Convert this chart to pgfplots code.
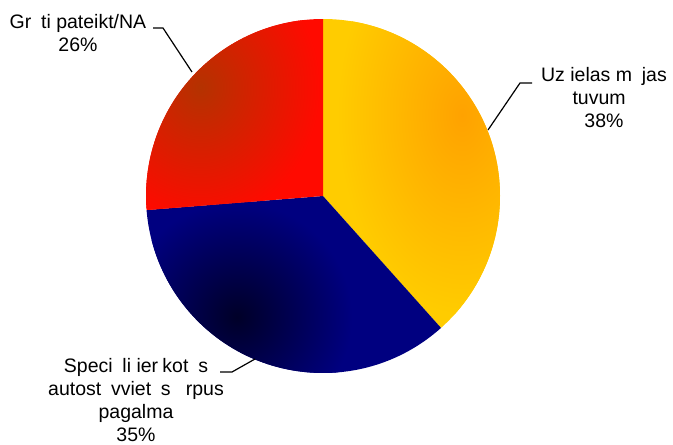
\documentclass[border=0pt]{standalone}
\usepackage{pgfplots}
\pgfplotsset{compat=1.18}
\usepackage{fontspec}
\setmainfont{Liberation Sans}
\definecolor{pyel}{RGB}{255,204,0}
\definecolor{pora}{RGB}{255,162,0}
\definecolor{pred}{RGB}{255,10,0}
\definecolor{pdred}{RGB}{180,50,0}
\definecolor{pnavy}{RGB}{0,0,128}
\definecolor{pdnavy}{RGB}{0,0,40}
\newcommand\g{\kern0.5em}
\newcommand\gi{\kern0.22em}
\begin{document}
\begin{tikzpicture}
% values (per cent)
\def\vA{38}% Uz ielas majas tuvuma
\def\vB{35}% Speciali ierikotas ...
\def\vC{26}% Gruti pateikt/NA
\pgfmathsetmacro\tot{\vA+\vB+\vC}
\pgfmathsetmacro\aA{90-360*\vA/\tot}
\pgfmathsetmacro\aB{\aA-360*\vB/\tot}
\pgfmathsetmacro\aC{\aB-360*\vC/\tot}
\path (0,0) rectangle (673pt,445pt);
\begin{axis}[at={(0,0)},anchor=south west,scale only axis,width=673pt,height=445pt,
  xmin=0,xmax=673,ymin=0,ymax=445,hide axis,clip=false]
% yellow slice
\begin{scope}
\clip (axis cs:323,249) -- ++(90:177pt) arc[start angle=90,end angle=\aA,radius=177pt] -- cycle;
\fill[pyel] (axis cs:0,0) rectangle (axis cs:673,445);
\shade[inner color=pora,outer color=pyel] (axis cs:462,330) ellipse[x radius=125pt,y radius=200pt];
\end{scope}
% navy slice
\begin{scope}
\clip (axis cs:323,249) -- ++(\aA:177pt) arc[start angle=\aA,end angle=\aB,radius=177pt] -- cycle;
\fill[pnavy] (axis cs:0,0) rectangle (axis cs:673,445);
\shade[inner color=pdnavy,outer color=pnavy] (axis cs:237,128) circle[radius=115pt];
\end{scope}
% red slice
\begin{scope}
\clip (axis cs:323,249) -- ++(\aB:177pt) arc[start angle=\aB,end angle=\aC,radius=177pt] -- cycle;
\fill[pred] (axis cs:0,0) rectangle (axis cs:673,445);
\shade[inner color=pdred,outer color=pred] (axis cs:200,358) ellipse[x radius=120pt,y radius=135pt];
\end{scope}
% leader lines
\draw[line width=1.2pt] (axis cs:153,417) -- (axis cs:163,417) -- (axis cs:192,373);
\draw[line width=1.2pt] (axis cs:488,315) -- (axis cs:520,362) -- (axis cs:532,362);
\draw[line width=1.2pt] (axis cs:220,73) -- (axis cs:232,73) -- (axis cs:255,86);
% labels
\node[align=center,font=\fontsize{19.5}{23}\selectfont,inner sep=0pt] at (axis cs:78,412) {Gr\g ti pateikt/NA\\26\%};
\node[align=center,font=\fontsize{19.5}{23}\selectfont,inner sep=0pt] at (axis cs:604,347) {Uz ielas m\g jas\\tuvum\g\\38\%};
\node[align=center,font=\fontsize{19.5}{23}\selectfont,inner sep=0pt] at (axis cs:136,45) {Speci\g li ier\gi kot\g s\\autost\g vviet\g s \g rpus\\pagalma\\35\%};
\end{axis}
\end{tikzpicture}
\end{document}
